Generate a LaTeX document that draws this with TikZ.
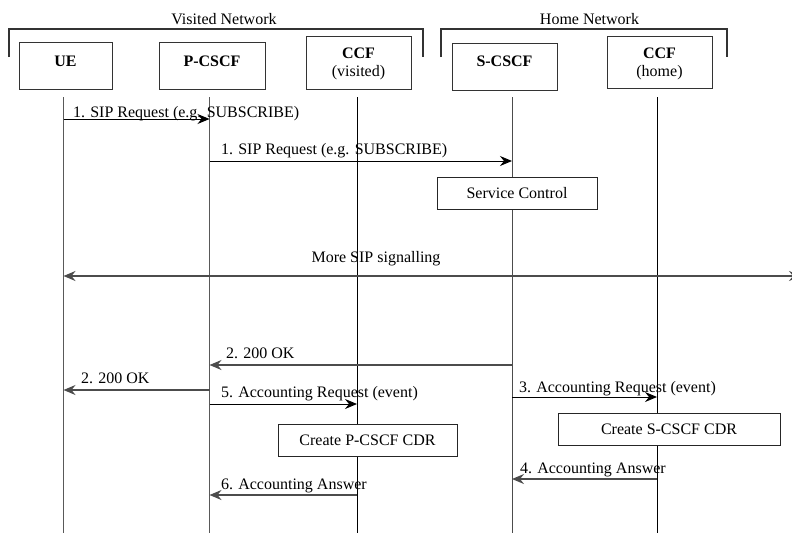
\documentclass[tikz,border=0pt]{standalone}
\usepackage{fontspec}
\setmainfont{Liberation Serif}
\usetikzlibrary{arrows.meta}
\begin{document}
\begin{tikzpicture}[x=1pt,y=-1pt,
  every node/.style={font=\fontsize{16}{19}\selectfont, inner sep=0pt, outer sep=0pt},
  entity/.style={draw=black!80, line width=1pt, fill=white, rectangle},
  action/.style={draw=black!85, line width=0.9pt, fill=white, rectangle},
  bracket/.style={draw=black!80, line width=1.3pt},
  lifeline/.style={draw=black, line width=0.9pt},
  lifegray/.style={draw=black!65, line width=1.4pt},
  msg/.style={draw=black, line width=0.9pt, -{Stealth[length=12pt,width=10pt,inset=4pt]}},
  msggray/.style={draw=black!70, line width=1.4pt, -{Stealth[length=12pt,width=10pt,inset=4pt]}},
  lbl/.style={anchor=base west}
]
\useasboundingbox (0,0) rectangle (792,533);

% network brackets
\draw[bracket] (9,57) |- (423,29) -- (423,57);
\draw[bracket] (441,57) |- (727,29) -- (727,57);
\node[anchor=base] (visnet) at (224,24) {Visited Network};
\node[anchor=base] (homenet) at (589.5,24) {Home Network};

% entity boxes
\node[entity, minimum width=93pt, minimum height=47pt] (ue) at (65.5,65.5) {};
\node[entity, minimum width=106pt, minimum height=47pt] (pcscf) at (212,65.5) {};
\node[entity, minimum width=105pt, minimum height=53pt] (ccfv) at (358.5,62.5) {};
\node[entity, minimum width=105pt, minimum height=47pt] (scscf) at (504.5,66.5) {};
\node[entity, minimum width=105pt, minimum height=52pt] (ccfh) at (659.5,62) {};
\node[anchor=base] (ueT) at (65.5,66) {\bfseries UE};
\node[anchor=base] (pcscfT) at (212,66.5) {\bfseries P-CSCF};
\node[anchor=base] (ccfvT) at (358.5,58) {\bfseries CCF};
\node[anchor=base] (ccfvS) at (358.5,76) {(visited)};
\node[anchor=base] (scscfT) at (504.5,66.5) {\bfseries S-CSCF};
\node[anchor=base] (ccfhT) at (659.5,58) {\bfseries CCF};
\node[anchor=base] (ccfhS) at (659.5,76) {(home)};

% lifelines
\coordinate (lUE) at (63.5,97);
\coordinate (lP) at (209.5,97);
\coordinate (lCv) at (357,97);
\coordinate (lS) at (512,97);
\coordinate (lCh) at (657,97);
\draw[lifegray] (lUE) -- (lUE |- 0,533);
\draw[lifegray] (lP) -- (lP |- 0,533);
\draw[lifeline] (lCv) -- (lCv |- 0,533);
\draw[draw=black!70, line width=1pt] (lS) -- (lS |- 0,533);
\draw[lifeline] (lCh) -- (lCh |- 0,533);

% processing boxes
\node[action, minimum width=160pt, minimum height=32pt] (svc) at (517,193) {Service Control};
\node[action, minimum width=179pt, minimum height=32pt] (cdrP) at (367.5,440) {Create P-CSCF CDR};
\node[action, minimum width=222pt, minimum height=32pt] (cdrS) at (669,429) {Create S-CSCF CDR};

% messages
\draw[msg] (lUE |- 0,119) -- (lP |- 0,119);
\node[lbl] (m1) at (73,117) {1. SIP Request (e.g. SUBSCRIBE)};

\draw[msg] (lP |- 0,161) -- (lS |- 0,161);
\node[lbl] (m2) at (221,154) {1. SIP Request (e.g. SUBSCRIBE)};

\coordinate (farR) at (801,276);
\draw[msggray, {Stealth[length=12pt,width=10pt,inset=4pt]}-{Stealth[length=12pt,width=10pt,inset=4pt]}] (lUE |- 0,276) -- (farR);
\node[anchor=base] (more) at (376,262) {More SIP signalling};

\draw[msggray] (lS |- 0,365) -- (lP |- 0,365);
\node[lbl] (ok1) at (226,358) {2. 200 OK};

\draw[msggray] (lP |- 0,390) -- (lUE |- 0,390);
\node[lbl] (ok2) at (81,383) {2. 200 OK};

\draw[msg] (lP |- 0,404) -- (lCv |- 0,404);
\node[lbl] (m5) at (221,397) {5. Accounting Request (event)};

\draw[msg] (lS |- 0,397) -- (lCh |- 0,397);
\node[lbl] (m3) at (519,392) {3. Accounting Request (event)};

\draw[msggray] (lCh |- 0,479) -- (lS |- 0,479);
\node[lbl] (m4) at (520,473) {4. Accounting Answer};

\draw[msggray] (lCv |- 0,495) -- (lP |- 0,495);
\node[lbl] (m6) at (221,489) {6. Accounting Answer};
\end{tikzpicture}
\end{document}
